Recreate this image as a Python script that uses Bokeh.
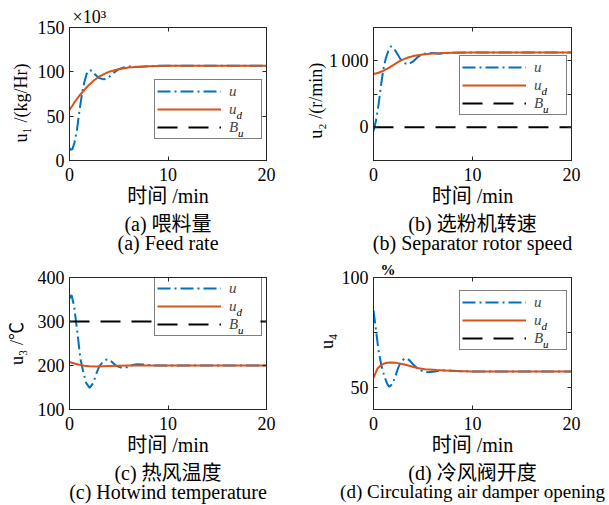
from bokeh.plotting import figure
from bokeh.layouts import column, row
from bokeh.models import (Range1d, FixedTicker, LinearAxis, Legend, LegendItem,
                          Title, CustomJSTickFormatter)
from bokeh.core.properties import value
from bokeh.embed import file_html
from bokeh.resources import INLINE

# ---------------------------------------------------------------- data
# (a) feed rate, x10^3 kg/Hr
t_u1 = [0, 0.1, 0.3, 0.5, 0.75, 1.0, 1.25, 1.5, 1.75, 2.0, 2.3, 2.6, 3.0, 3.5,
        4.0, 4.5, 5.0, 5.5, 6.0, 6.5, 7.0, 8.0, 9.0, 10.0, 20.0]
u1 = [14, 12, 13, 20, 34, 55, 74, 88, 98, 102, 101, 97, 93, 91.5,
      94, 99, 103, 105, 106, 105.8, 105.5, 106.2, 106.8, 107, 107]
t_ud1 = [0, 0.5, 1, 1.5, 2, 2.5, 3, 3.5, 4, 5, 6, 7, 8, 10, 12, 20]
ud1 = [57, 65.5, 73, 79.5, 85.5, 90.5, 94.5, 97.5, 100, 103, 104.8, 105.8,
       106.4, 106.9, 107, 107]

# (b) separator rotor speed, r/min
t_u2 = [0, 0.25, 0.5, 0.75, 1.0, 1.25, 1.5, 1.75, 2.0, 2.3, 2.7, 3.1, 3.5,
        4.0, 4.5, 5.0, 5.5, 6.0, 6.5, 7.0, 8.0, 10.0, 20.0]
u2 = [-60, 100, 330, 620, 875, 1040, 1150, 1215, 1200, 1130, 1030, 965, 945,
      990, 1060, 1100, 1118, 1115, 1105, 1108, 1120, 1125, 1125]
t_ud2 = [0, 0.5, 1, 1.5, 2, 2.5, 3, 3.5, 4, 5, 6, 7, 8, 10, 20]
ud2 = [800, 820, 850, 888, 935, 982, 1020, 1048, 1070, 1095, 1110, 1118,
       1122, 1125, 1125]

# (c) hot wind temperature, degC
t_u3 = [0, 0.2, 0.45, 0.8, 1.1, 1.4, 1.7, 2.05, 2.4, 2.7, 3.0, 3.4, 3.8, 4.2,
        4.7, 5.3, 5.8, 6.4, 6.9, 7.5, 8.5, 10, 20]
u3 = [352, 360, 337, 276, 216, 185, 160, 149, 160, 180, 197, 209, 214, 210,
      200, 194.5, 196, 201, 203, 202, 200, 200, 200]
t_ud3 = [0, 0.5, 1, 1.5, 2, 3, 4, 5, 6, 8, 20]
ud3 = [208, 204.5, 201.5, 199.2, 198.2, 198, 198.8, 199.5, 200, 200, 200]

# (d) circulating air damper opening, %
t_u4 = [0, 0.2, 0.5, 0.8, 1.1, 1.4, 1.6, 1.9, 2.2, 2.5, 2.8, 3.2, 3.6, 4.0,
        4.5, 5.0, 5.5, 6.2, 7.0, 8.0, 9.0, 10, 20]
u4 = [85, 78, 67, 60, 55, 51.5, 50.3, 51.5, 55, 59, 62, 63.3, 62.5, 60.5,
      58.5, 57.3, 56.9, 57.3, 57.8, 57.6, 57.4, 57.3, 57.3]
t_ud4 = [0, 0.4, 0.8, 1.2, 1.7, 2.3, 3.0, 3.7, 4.4, 5.2, 6.4, 8, 10, 20]
ud4 = [54.4, 58.6, 60.3, 61.1, 61.4, 61.2, 60.6, 59.8, 58.9, 58.3, 57.9,
       57.5, 57.3, 57.3]

# upper bound B_u; NaN where the bound lies outside the plotted range
NAN = float("nan")
t_span = [0, 20]
bu_levels = [NAN, 0, 300, NAN]

x_range = (0, 20)
x_ticks = [0, 10, 20]
y_ranges = [(0, 150), (-500, 1500), (100, 400), (40, 100)]
y_ticks = [[0, 50, 100, 150], [0, 1000], [100, 200, 300, 400], [50, 100]]
y_minor = [[], [500], [], [75]]
y_overrides = [{}, {1000: "1\u2009000"}, {}, {}]

y_labels = ["u\u2081 /(kg/Hr)", "u\u2082 /(r/min)", "u\u2083 /\u2103", "u\u2084"]
captions_cn = ["(a) 喂料量", "(b) 选粉机转速", "(c) 热风温度", "(d) 冷风阀开度"]
captions_en = ["(a) Feed rate", "(b) Separator rotor speed",
               "(c) Hotwind temperature", "(d) Circulating air damper opening"]
unit_notes = ["\u00d710\u00b3", None, None, "%"]

# ---------------------------------------------------------------- style
SERIF = "'Liberation Serif', 'Noto Sans CJK SC'"
BLUE = "#0072BD"
ORANGE = "#D95319"
AX = "#262626"
NBSP = "\u00a0"

# frame sizes and the borders around each frame
frame_w = [197, 198]
frame_h = [133, 132]
border_l = [69, 71]
border_r = [36, 38]
border_t = [27, 22]
border_b = [95, 96]

legend_pos = [(85, 21), (86, 45), (85, 73), (86, 59)]
ylab_standoff = [4, 0, 8, 2]
# (leading, trailing) padding that nudges the centred y label along the axis
ylab_pad = [(0, 4), (0, 3), (0, 0), (1, 0)]
cap_en_size = ["20px", "20px", "20px", "19px"]

series = [(t_u1, u1, t_ud1, ud1), (t_u2, u2, t_ud2, ud2),
          (t_u3, u3, t_ud3, ud3), (t_u4, u4, t_ud4, ud4)]


def style_axis(ax, ticker, labels=True):
    ax.ticker = ticker
    ax.major_tick_in = 4
    ax.major_tick_out = 0
    ax.minor_tick_in = 4
    ax.minor_tick_out = 0
    ax.axis_line_color = AX
    ax.major_tick_line_color = AX
    ax.minor_tick_line_color = AX
    ax.major_label_text_font = SERIF
    ax.major_label_text_color = "black"
    if labels:
        ax.major_label_text_font_size = "18px"
    else:
        ax.formatter = CustomJSTickFormatter(code="return ''")
        ax.major_label_text_font_size = "0px"
        ax.major_label_standoff = 0


def make_panel(i):
    r, c = divmod(i, 2)
    lo, hi = y_ranges[i]
    p = figure(frame_width=frame_w[c], frame_height=frame_h[r],
               x_range=Range1d(*x_range), y_range=Range1d(lo, hi),
               output_backend="svg", toolbar_location=None,
               min_border_left=border_l[c], min_border_right=border_r[c],
               min_border_top=border_t[r], min_border_bottom=border_b[r])
    p.background_fill_color = "white"
    p.border_fill_color = "white"
    p.outline_line_color = AX
    p.xgrid.visible = False
    p.ygrid.visible = False

    style_axis(p.xaxis[0], FixedTicker(ticks=x_ticks))
    style_axis(p.yaxis[0], FixedTicker(ticks=y_ticks[i], minor_ticks=y_minor[i]))
    p.xaxis.major_label_standoff = 7
    p.yaxis.major_label_standoff = 5
    p.yaxis.major_label_overrides = y_overrides[i]

    p.xaxis.axis_label = "时间 /min"
    p.xaxis.axis_label_text_font = SERIF
    p.xaxis.axis_label_text_font_size = "20px"
    p.xaxis.axis_label_text_font_style = "normal"
    p.xaxis.axis_label_text_color = "black"
    p.xaxis.axis_label_standoff = 1

    lead, trail = ylab_pad[i]
    p.yaxis.axis_label = NBSP * lead + y_labels[i] + NBSP * trail
    p.yaxis.axis_label_text_font = SERIF
    p.yaxis.axis_label_text_font_size = "18px"
    p.yaxis.axis_label_text_font_style = "normal"
    p.yaxis.axis_label_text_color = "black"
    p.yaxis.axis_label_standoff = ylab_standoff[i]

    top = LinearAxis()
    style_axis(top, FixedTicker(ticks=x_ticks), labels=False)
    p.add_layout(top, "above")
    right = LinearAxis()
    style_axis(right, FixedTicker(ticks=y_ticks[i], minor_ticks=y_minor[i]),
               labels=False)
    p.add_layout(right, "right")

    tu, u, tud, ud = series[i]
    r_u = p.line(tu, u, line_color=BLUE, line_width=2, line_dash="13 4 2 4")
    r_ud = p.line(tud, ud, line_color=ORANGE, line_width=2)
    lvl = bu_levels[i]
    r_bu = p.line(t_span, [lvl, lvl], line_color="black", line_width=2,
                  line_dash="20 11")

    # legend geometry (pixels from the frame's bottom-left corner)
    pad, item_h, gw, stand, lw = 2, 18, 64, 8, 30
    lx, ly = legend_pos[i]
    leg_w = 2 * pad + gw + stand + lw
    leg_h = 2 * pad + 3 * item_h
    sx = (x_range[1] - x_range[0]) / frame_w[c]
    sy = (hi - lo) / frame_h[r]

    def to_x(px):
        return x_range[0] + px * sx

    def to_y(py):
        return lo + py * sy

    # opaque backing of the legend box, then the label subscripts on it
    p.quad(left=[to_x(lx)], right=[to_x(lx + leg_w)], bottom=[to_y(ly)],
           top=[to_y(ly + leg_h)], fill_color="white", line_color=None)
    tx = lx + pad + gw + stand
    row_c = [ly + leg_h - pad - (k + 0.5) * item_h for k in range(3)]
    subs = [(1, "d", 8), (2, "u", 9.5)]
    p.text(x=[to_x(tx + dx) for _, _, dx in subs],
           y=[to_y(row_c[k] - 4) for k, _, _ in subs],
           text=[s for _, s, _ in subs],
           text_font=value("Liberation Serif"), text_font_style="italic",
           text_font_size="11px", text_baseline="middle", text_align="left",
           text_color="black")

    leg = Legend(items=[LegendItem(label="u", renderers=[r_u]),
                        LegendItem(label="u", renderers=[r_ud]),
                        LegendItem(label="B", renderers=[r_bu])],
                 location=(lx, ly), padding=pad, spacing=0, margin=0,
                 glyph_width=gw, glyph_height=item_h, label_height=item_h,
                 label_width=lw, label_standoff=stand,
                 label_text_font=SERIF, label_text_font_style="italic",
                 label_text_font_size="15px",
                 border_line_color="black", border_line_width=1,
                 background_fill_alpha=0)
    p.add_layout(leg)

    # captions under the axis
    for txt, so, fs in [(captions_cn[i], 3, "20px"),
                        (captions_en[i], -14, cap_en_size[i])]:
        p.add_layout(Title(text=txt, align="center",
                           text_font=SERIF, text_font_size=fs,
                           text_font_style="normal", text_color="black",
                           standoff=so), "below")

    # unit multiplier above the frame
    note = unit_notes[i]
    if note is not None:
        big = i == 0
        p.add_layout(Title(text=note, align="left", offset=3 if big else 7,
                           text_font=SERIF,
                           text_font_size="18px" if big else "15px",
                           text_font_style="normal" if big else "bold",
                           text_color="black", standoff=1 if big else 0),
                     "above")
    return p


panels = [make_panel(i) for i in range(4)]
layout = column(row(panels[0], panels[1]), row(panels[2], panels[3]))

with open("out.html", "w") as f:
    f.write(file_html(layout, INLINE))
